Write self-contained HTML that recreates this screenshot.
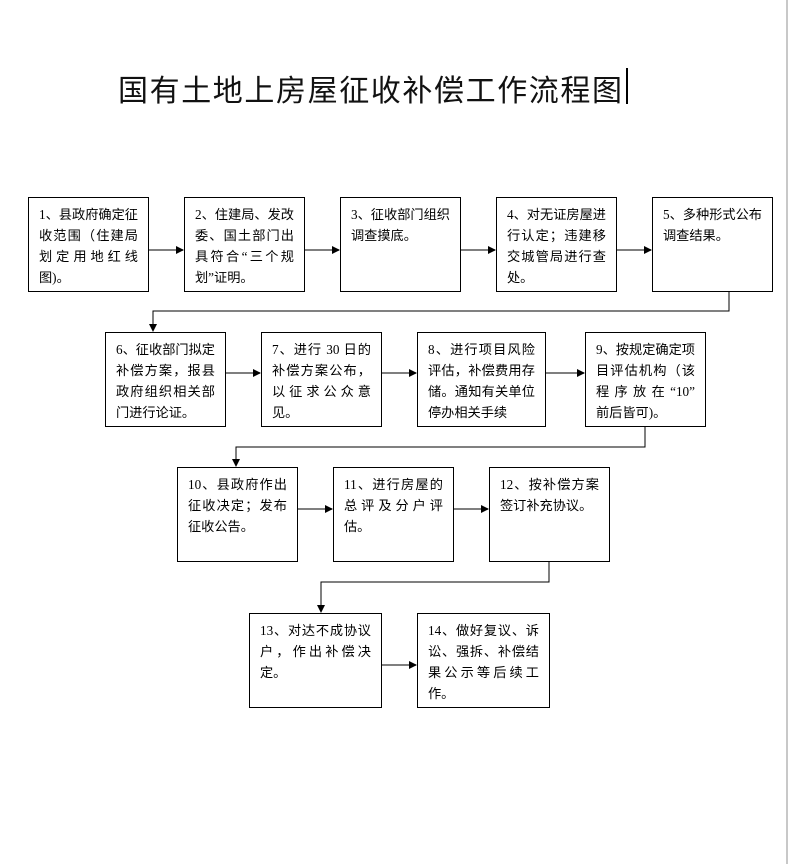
<!DOCTYPE html>
<html><head><meta charset="utf-8"><style>
html,body{margin:0;padding:0;background:#fff;}
body{width:788px;height:864px;position:relative;overflow:hidden;font-family:"Liberation Serif","Noto Sans CJK SC",sans-serif;}
.t{position:absolute;left:118px;top:66px;font-size:30px;font-family:"Liberation Sans","Noto Sans CJK SC",sans-serif;letter-spacing:1.6px;color:#111;white-space:nowrap;}
.cur{position:absolute;left:626px;top:68px;width:2px;height:36px;background:#000;}
.bar{position:absolute;left:786px;top:0;width:2px;height:864px;background:#c8c8c8;}
.b{position:absolute;border:1.5px solid #000;box-sizing:border-box;height:95px;width:121px;padding:6px 10px 0 10px;font-size:13.2px;line-height:21px;color:#000;}
.b div{text-align:justify;text-align-last:justify;white-space:nowrap;}
.b div.l{text-align-last:left;}
svg{position:absolute;left:0;top:0;}
</style></head><body>
<div class="t">国有土地上房屋征收补偿工作流程图</div>
<div class="cur"></div>
<div class="bar"></div>

<div class="b" style="left:28px;top:197px"><div>1、县政府确定征</div><div>收范围（住建局</div><div>划定用地红线</div><div class="l">图)。</div></div>
<div class="b" style="left:184px;top:197px"><div>2、住建局、发改</div><div>委、国土部门出</div><div>具符合“三个规</div><div class="l">划”证明。</div></div>
<div class="b" style="left:340px;top:197px"><div>3、征收部门组织</div><div class="l">调查摸底。</div></div>
<div class="b" style="left:496px;top:197px"><div>4、对无证房屋进</div><div>行认定；违建移</div><div>交城管局进行查</div><div class="l">处。</div></div>
<div class="b" style="left:652px;top:197px"><div>5、多种形式公布</div><div class="l">调查结果。</div></div>

<div class="b" style="left:105px;top:332px"><div>6、征收部门拟定</div><div>补偿方案，报县</div><div>政府组织相关部</div><div class="l">门进行论证。</div></div>
<div class="b" style="left:261px;top:332px"><div>7、进行 30 日的</div><div>补偿方案公布，</div><div>以征求公众意</div><div class="l">见。</div></div>
<div class="b" style="left:417px;top:332px;width:129px"><div>8、进行项目风险</div><div>评估，补偿费用存</div><div>储。通知有关单位</div><div class="l">停办相关手续</div></div>
<div class="b" style="left:585px;top:332px"><div>9、按规定确定项</div><div>目评估机构（该</div><div>程序放在“10”</div><div class="l">前后皆可)。</div></div>

<div class="b" style="left:177px;top:467px"><div>10、县政府作出</div><div>征收决定；发布</div><div class="l">征收公告。</div></div>
<div class="b" style="left:333px;top:467px"><div>11、进行房屋的</div><div>总评及分户评</div><div class="l">估。</div></div>
<div class="b" style="left:489px;top:467px"><div>12、按补偿方案</div><div class="l">签订补充协议。</div></div>

<div class="b" style="left:249px;top:613px;width:133px"><div>13、对达不成协议</div><div>户，作出补偿决</div><div class="l">定。</div></div>
<div class="b" style="left:417px;top:613px;width:133px"><div>14、做好复议、诉</div><div>讼、强拆、补偿结</div><div>果公示等后续工</div><div class="l">作。</div></div>

<svg width="788" height="864" viewBox="0 0 788 864">
<defs><marker id="a" markerWidth="8" markerHeight="8" refX="7" refY="4" orient="auto" markerUnits="userSpaceOnUse"><path d="M0,0 L8,4 L0,8 z" fill="#000"/></marker></defs>
<g stroke="#555" stroke-width="1.5" fill="none" marker-end="url(#a)">
<line x1="149" y1="250" x2="183" y2="250"/>
<line x1="305" y1="250" x2="339" y2="250"/>
<line x1="461" y1="250" x2="495" y2="250"/>
<line x1="617" y1="250" x2="651" y2="250"/>
<polyline points="729,292 729,311 153,311 153,331" stroke="#000" stroke-width="1"/>
<line x1="226" y1="373" x2="260" y2="373"/>
<line x1="382" y1="373" x2="416" y2="373"/>
<line x1="546" y1="373" x2="584" y2="373"/>
<polyline points="645,427 645,447 236,447 236,466" stroke="#000" stroke-width="1"/>
<line x1="298" y1="509" x2="332" y2="509"/>
<line x1="454" y1="509" x2="488" y2="509"/>
<polyline points="549,562 549,582 321,582 321,612" stroke="#000" stroke-width="1"/>
<line x1="382" y1="665" x2="416" y2="665"/>
</g>
</svg>
</body></html>
